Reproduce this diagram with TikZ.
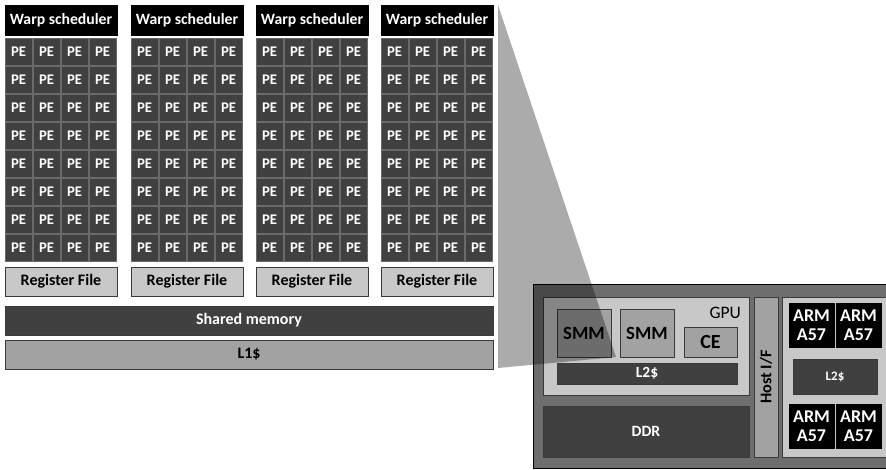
\documentclass[tikz,border=0pt]{standalone}
\usepackage{fontspec}
\setmainfont{Carlito}
\begin{document}
\begin{tikzpicture}[x=1pt,y=-1pt,
  box/.style={rectangle,anchor=north west,inner sep=0pt,outer sep=0pt,draw,line width=0.7pt,font=\bfseries},
  pecell/.style={box,fill=pedark,draw=pebord,text=white,minimum width=27pt,minimum height=27pt,font=\bfseries\fontsize{14.7}{14.7}\selectfont},
  warp/.style={box,fill=black,draw=black,text=white,minimum width=112pt,minimum height=30pt,font=\bfseries\fontsize{15.7}{15.7}\selectfont},
  regfile/.style={box,fill=lightg,draw=darkb,text=black,minimum width=112pt,minimum height=29pt,font=\bfseries\fontsize{16}{16}\selectfont},
  darkbar/.style={box,fill=pedark,draw=darkb,text=white},
  midbar/.style={box,fill=midg,draw=darkb,text=black},
  armbox/.style={box,fill=black,draw=black,text=white,minimum width=45pt,minimum height=44pt,align=center,font=\bfseries\fontsize{18}{19}\selectfont}
]
\definecolor{pedark}{HTML}{404040}
\definecolor{pebord}{HTML}{6A6A6A}
\definecolor{darkb}{HTML}{3A3A3A}
\definecolor{lightg}{HTML}{C8C8C8}
\definecolor{midg}{HTML}{A2A2A2}
\definecolor{outerg}{HTML}{6E6E6E}
\useasboundingbox (0,0) rectangle (886,469);
% SM blocks
\foreach \b/\xo in {0/5,1/131,2/256,3/381}{
  \node[warp] (warp\b) at (\xo,5) {Warp scheduler};
  \foreach \i in {0,...,3}{
    \foreach \j in {0,...,7}{
      \node[pecell] (pe\b-\i-\j) at ({\xo+28*\i},{38+28.1*\j}) {PE};
    }
  }
  \node[regfile] (rf\b) at (\xo,267) {Register File};
}
\node[darkbar,minimum width=488pt,minimum height=29pt,font=\bfseries\fontsize{16}{16}\selectfont] (shm) at (5,306) {Shared memory};
\node[midbar,minimum width=488pt,minimum height=29pt,font=\bfseries\fontsize{16}{16}\selectfont] (l1) at (5,340) {L1\$};
% SoC
\node[box,fill=outerg,draw=black,line width=1pt,minimum width=354pt,minimum height=184pt] (soc) at (533,284) {};
\node[box,fill=lightg,draw=darkb,minimum width=206pt,minimum height=98pt] (gpu) at (543,297) {};
\node[anchor=north east,inner sep=0pt,font=\fontsize{17.5}{17.5}\selectfont] (gpulbl) at (741,307) {GPU};
\node[midbar,minimum width=54pt,minimum height=48pt,font=\bfseries\fontsize{18.7}{18.7}\selectfont] (smm1) at (557,309) {SMM};
\node[midbar,minimum width=54pt,minimum height=48pt,font=\bfseries\fontsize{18.7}{18.7}\selectfont] (smm2) at (620,309) {SMM};
\node[midbar,minimum width=53pt,minimum height=30pt,font=\bfseries\fontsize{20}{20}\selectfont] (ce) at (684,327) {CE};
\node[darkbar,minimum width=180pt,minimum height=21pt,font=\bfseries\fontsize{15.5}{15.5}\selectfont] (gl2) at (557,363) {L2\$};
\node[darkbar,minimum width=206pt,minimum height=51pt,font=\bfseries\fontsize{15.7}{15.7}\selectfont] (ddr) at (543,406) {DDR};
\node[midbar,minimum width=24pt,minimum height=160pt] (host) at (754,297) {};
\node[rotate=90,inner sep=0pt,font=\bfseries\fontsize{16.3}{16.3}\selectfont] (hostlbl) at (host.center) {Host I/F};
\node[box,fill=lightg,draw=darkb,minimum width=106pt,minimum height=160pt] (cpu) at (782,297) {};
\node[armbox] (arm1) at (789,303) {ARM\\A57};
\node[armbox] (arm2) at (836,303) {ARM\\A57};
\node[darkbar,minimum width=84pt,minimum height=35pt,font=\bfseries\fontsize{13}{13}\selectfont] (cl2) at (793,359) {L2\$};
\node[armbox] (arm3) at (789,404) {ARM\\A57};
\node[armbox] (arm4) at (836,404) {ARM\\A57};
% zoom wedge
\coordinate (wa) at (498,5);
\coordinate (wb) at (616,357);
\coordinate (wc) at (498,368);
\fill[black,opacity=0.33] (wa) -- (wb) -- (wc) -- cycle;
\end{tikzpicture}
\end{document}
